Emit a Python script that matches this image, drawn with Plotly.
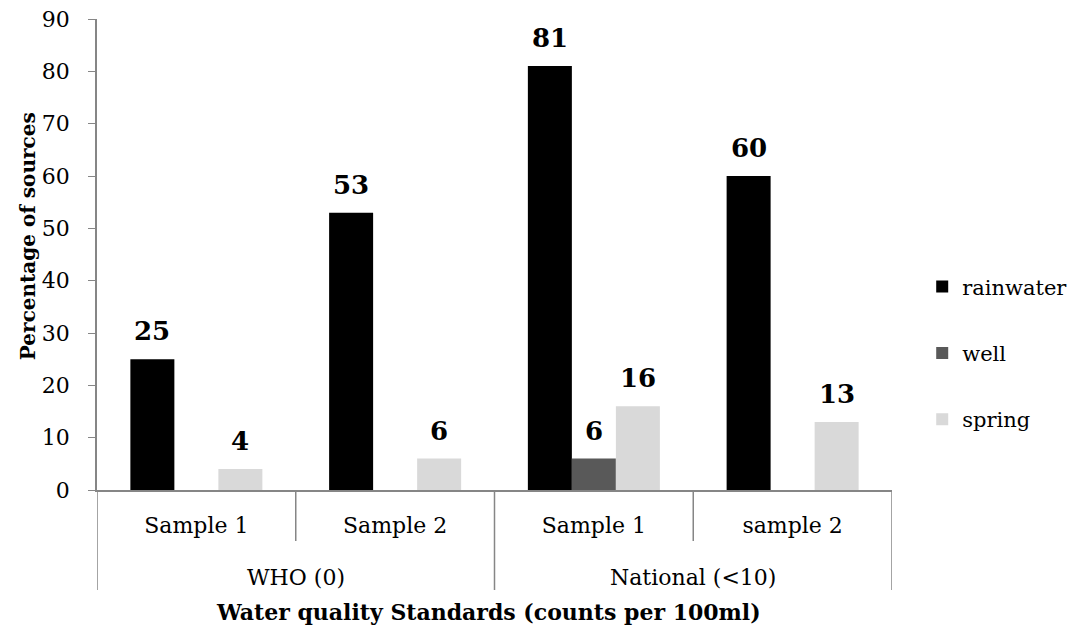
import plotly.graph_objects as go

# Chart data
groups = ["WHO (0)", "WHO (0)", "National (<10)", "National (<10)"]
samples = ["Sample 1", "Sample 2", "Sample 1", "sample 2"]
series_names = ["rainwater", "well", "spring"]
rainwater = [25, 53, 81, 60]
well = [0, 0, 6, 0]
spring = [4, 6, 16, 13]
colors = ["#000000", "#595959", "#d9d9d9"]

FONT = "DejaVu Serif"
AXIS_GREY = "#868686"
PLOT_H = 471

positions = list(range(len(samples)))
bar_w = 0.2214
offsets = [-1.5 * bar_w, -0.5 * bar_w, 0.5 * bar_w]

fig = go.Figure()
annotations = []
for name, vals, col, off in zip(series_names, [rainwater, well, spring], colors, offsets):
    fig.add_trace(go.Bar(
        x=positions, y=vals, name=name, marker=dict(color=col, line=dict(width=0)),
        width=bar_w, offset=off, legendgroup=name,
    ))
    for p, v in zip(positions, vals):
        if v:
            annotations.append(dict(
                x=p + off + bar_w / 2, y=v, xref="x", yref="y", text=f"<b>{v}</b>",
                showarrow=False, yanchor="bottom", yshift=11,
                font=dict(family=FONT, size=26, color="black"),
            ))

# group labels under the sample labels
seen = []
for g in groups:
    if g not in seen:
        seen.append(g)
for g in seen:
    idx = [i for i, gg in enumerate(groups) if gg == g]
    annotations.append(dict(
        x=sum(idx) / len(idx), y=0, xref="x", yref="paper", text=g, showarrow=False,
        yanchor="middle", yshift=-87, font=dict(family=FONT, size=22, color="black"),
    ))

# axis titles
annotations.append(dict(
    x=0.492, y=0, xref="paper", yref="paper",
    text="<b>Water quality Standards (counts per 100ml)</b>", showarrow=False,
    xanchor="center", yanchor="middle", yshift=-122,
    font=dict(family=FONT, size=22, color="black"),
))
annotations.append(dict(
    x=0, y=0.539, xref="paper", yref="paper", text="<b>Percentage of sources</b>",
    showarrow=False, textangle=-90, xanchor="center", yanchor="middle", xshift=-69,
    font=dict(family=FONT, size=20, color="black"),
))

# category dividers below the axis
shapes = []
for i in range(len(samples) + 1):
    b = i - 0.5
    if i == 0 or i == len(samples) or groups[i] != groups[i - 1]:
        depth = 100
    else:
        depth = 51
    shapes.append(dict(
        type="line", xref="x", yref="paper", x0=b, x1=b, y0=0, y1=-depth / PLOT_H,
        line=dict(color=AXIS_GREY, width=1.5),
    ))

fig.update_layout(
    width=1075, height=629,
    margin=dict(l=97, r=183, t=19, b=139, autoexpand=False),
    plot_bgcolor="white", paper_bgcolor="white",
    barmode="overlay",
    showlegend=True,
    legend=dict(
        x=1.038, y=0.291, xanchor="left", yanchor="middle",
        font=dict(family=FONT, size=21, color="black"),
        tracegroupgap=36, traceorder="grouped",
    ),
    xaxis=dict(
        range=[-0.5, len(samples) - 0.5], tickvals=positions, ticktext=samples,
        showline=True, linecolor=AXIS_GREY, linewidth=1.5, ticks="",
        showgrid=False, zeroline=False, ticklabelstandoff=15, automargin=False,
        tickfont=dict(family=FONT, size=22, color="black"),
    ),
    yaxis=dict(
        range=[0, 90], dtick=10, showline=True, linecolor=AXIS_GREY, linewidth=1.5,
        ticks="outside", ticklen=7, tickcolor=AXIS_GREY, showgrid=False, zeroline=False,
        ticklabelstandoff=14, automargin=False,
        tickfont=dict(family=FONT, size=22, color="black"),
    ),
    annotations=annotations,
    shapes=shapes,
)

fig.write_html("out.html")
